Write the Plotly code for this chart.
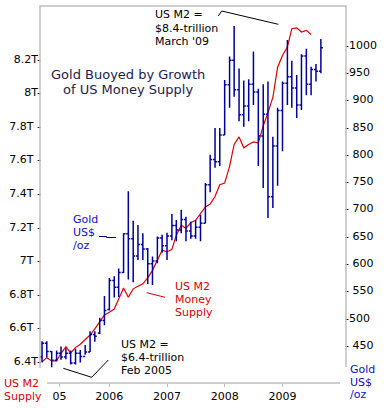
import plotly.graph_objects as go
import pandas as pd

# ---------------- data ----------------
months = pd.date_range("2004-11-01", "2009-09-01", freq="MS")

gold_open = [428, 453, 438, 422, 435, 428, 435, 417, 435, 429, 437, 469, 472, 495,
             515, 568, 556, 583, 654, 645, 613, 634, 626, 599, 604, 646,
             632, 650, 669, 661, 680, 659, 650, 666, 673, 744, 790, 786,
             835, 927, 972, 918, 872, 888, 928, 914, 833, 873, 722, 815,
             880, 930, 942, 921, 890, 980, 928, 955, 952]
gold_high = [457, 457, 439, 440, 447, 444, 440, 443, 441, 450, 475, 475, 500, 540,
             573, 576, 590, 655, 732, 678, 670, 655, 628, 612, 649, 652,
             656, 690, 679, 698, 685, 676, 679, 689, 747, 799, 848, 848,
             936, 979, 1035, 957, 935, 937, 988, 920, 928, 933, 832, 885,
             933, 1009, 971, 945, 983, 993, 960, 965, 1011]
gold_low = [418, 427, 409, 420, 423, 424, 414, 414, 418, 432, 437, 456, 470, 486,
            513, 537, 538, 582, 570, 565, 606, 606, 562, 560, 600, 619,
            606, 642, 640, 655, 640, 645, 645, 640, 673, 730, 775, 778,
            835, 885, 905, 860, 850, 860, 890, 778, 738, 683, 701, 742,
            805, 890, 885, 866, 881, 908, 908, 933, 948]
gold_close = [453, 438, 422, 435, 428, 435, 417, 435, 429, 437, 469, 466, 495, 513,
              568, 556, 583, 654, 645, 613, 634, 626, 599, 604, 646, 632,
              650, 669, 661, 680, 659, 650, 666, 673, 744, 790, 786, 835,
              927, 972, 918, 872, 888, 928, 914, 833, 873, 722, 815, 880,
              930, 942, 921, 890, 980, 928, 955, 952, 995]

m2_months = months[:57]
m2_trillions = [6.395, 6.42, 6.40, 6.40, 6.446, 6.485, 6.448, 6.48, 6.50, 6.525,
                6.555, 6.592, 6.635, 6.675, 6.69, 6.71, 6.77, 6.835, 6.78, 6.83,
                6.845, 6.86, 6.895, 6.94, 7.00, 7.06, 7.05, 7.065, 7.15, 7.21,
                7.19, 7.225, 7.238, 7.278, 7.318, 7.335, 7.38, 7.45, 7.46, 7.56,
                7.69, 7.735, 7.67, 7.69, 7.705, 7.70, 7.80, 7.88, 7.97, 8.15,
                8.22, 8.27, 8.38, 8.385, 8.36, 8.37, 8.345]

left_tickvals = [6.4, 6.6, 6.8, 7.0, 7.2, 7.4, 7.6, 7.8, 8.0, 8.2]
left_ticktext = ["6.4T-", "6.6T -", "6.8T -", "7T -", "7.2T -", "7.4T -",
                 "7.6T -", "7.8T -", "8T-", "8.2T-"]
right_tickvals = [450, 500, 550, 600, 650, 700, 750, 800, 850, 900, 950, 1000]
right_ticktext = ["- 450", "-500", "- 550", "- 600", "- 650", "- 700", "- 750",
                  "- 800", "- 850", "- 900", "-950", "-1000"]
x_tickvals = ["2005-02-20", "2006-01-01", "2007-01-01", "2008-01-01", "2009-01-01"]
x_ticktext = ["05", "2006", "2007", "2008", "2009"]

# ---------------- style ----------------
FONT = "DejaVu Sans"
NAVY = "#00009c"
RED = "#dd0000"
GRAY = "#c0c0c0"
BLUE_TXT = "#1010c8"

W, H = 387, 410
PL, PT, PW, PH = 40, 6, 306, 377


def px(x):
    return (x - PL) / PW


def py(y):
    return (PT + PH - y) / PH


fig = go.Figure()

fig.add_trace(go.Ohlc(
    x=months, open=gold_open, high=gold_high, low=gold_low, close=gold_close,
    yaxis="y2", tickwidth=0.45,
    increasing=dict(line=dict(color=NAVY, width=1.5)),
    decreasing=dict(line=dict(color=NAVY, width=1.5)),
    showlegend=False, hoverinfo="skip",
))

fig.add_trace(go.Scatter(
    x=m2_months, y=m2_trillions, mode="lines",
    line=dict(color=RED, width=1.2), showlegend=False, hoverinfo="skip",
))

annos = []


def txt(x, y, s, color="black", size=11, anchor="left"):
    annos.append(dict(x=px(x), y=py(y), xref="paper", yref="paper", text=s,
                      showarrow=False, xanchor=anchor, yanchor="middle",
                      borderpad=0,
                      font=dict(family=FONT, size=size, color=color)))


# top annotation
txt(154, 15, "US M2 =")
txt(154, 28.5, "$8.4-trillion")
txt(154, 42, "March '09")
# title
txt(128, 74, "Gold Buoyed by Growth", color="#1c1c4c", size=13, anchor="center")
txt(128, 89, "of US Money Supply", color="#1c1c4c", size=13, anchor="center")
# gold label
txt(72, 219, "Gold", color=BLUE_TXT)
txt(72, 232, "US$", color=BLUE_TXT)
txt(72, 245, "/oz", color=BLUE_TXT)
# M2 label
txt(174, 286, "US M2", color=RED)
txt(174, 299, "Money", color=RED)
txt(174, 312, "Supply", color=RED)
# bottom annotation
txt(120, 344, "US M2 =")
txt(120, 357, "$6.4-trillion")
txt(120, 370.5, "Feb 2005")
# axis titles
txt(3, 383, "US M2", color=RED)
txt(3, 396, "Supply", color=RED)
txt(349, 369, "Gold", color=BLUE_TXT)
txt(349, 382, "US$", color=BLUE_TXT)
txt(349, 395, "/oz", color=BLUE_TXT)

shapes = []


def seg(points, color="black", width=1):
    d = "M " + " L ".join(f"{px(x)},{py(y)}" for x, y in points)
    shapes.append(dict(type="path", path=d, xref="paper", yref="paper",
                       line=dict(color=color, width=width)))


# frame
seg([(40, 368), (40, 6), (346, 6), (346, 367)], color=GRAY, width=1.5)
seg([(47, 383), (340, 383)], color=GRAY, width=1.5)
# leader lines
seg([(218.3, 16), (221.7, 11), (278.3, 24.3)])
seg([(99, 236.5), (106.5, 236.5), (106.5, 237.5), (116, 237.5)], color=NAVY)
seg([(146.7, 292.7), (165, 297.3)], color=RED)
seg([(63.3, 368.3), (91.7, 377.3), (108.3, 360)])

fig.update_layout(
    width=W, height=H,
    margin=dict(l=PL, r=W - PL - PW, t=PT, b=H - PT - PH, autoexpand=False),
    paper_bgcolor="white", plot_bgcolor="white",
    font=dict(family=FONT, size=11, color="black"),
    xaxis=dict(type="date", range=["2004-10-19", "2010-02-07"],
               tickvals=x_tickvals, ticktext=x_ticktext, automargin=False,
               showgrid=False, zeroline=False, showline=False,
               ticks="outside", ticklen=3, tickcolor=GRAY,
               rangeslider=dict(visible=False),
               tickfont=dict(family=FONT, size=11, color="black")),
    yaxis=dict(range=[6.269, 8.515], tickvals=left_tickvals, ticktext=left_ticktext,
               automargin=False, showgrid=False, zeroline=False, showline=False,
               ticks="", ticklabelstandoff=-2,
               tickfont=dict(family=FONT, size=11, color="black")),
    yaxis2=dict(range=[380.3, 1071.5], overlaying="y", side="right",
                tickvals=right_tickvals, ticktext=right_ticktext, automargin=False,
                showgrid=False, zeroline=False, showline=False,
                ticks="", ticklabelstandoff=-2,
                tickfont=dict(family=FONT, size=11, color="black")),
    annotations=annos, shapes=shapes,
)

fig.write_html("out.html",
               config={"displayModeBar": False},
               post_script="document.body.style.margin='0';document.body.style.overflow='hidden';")
